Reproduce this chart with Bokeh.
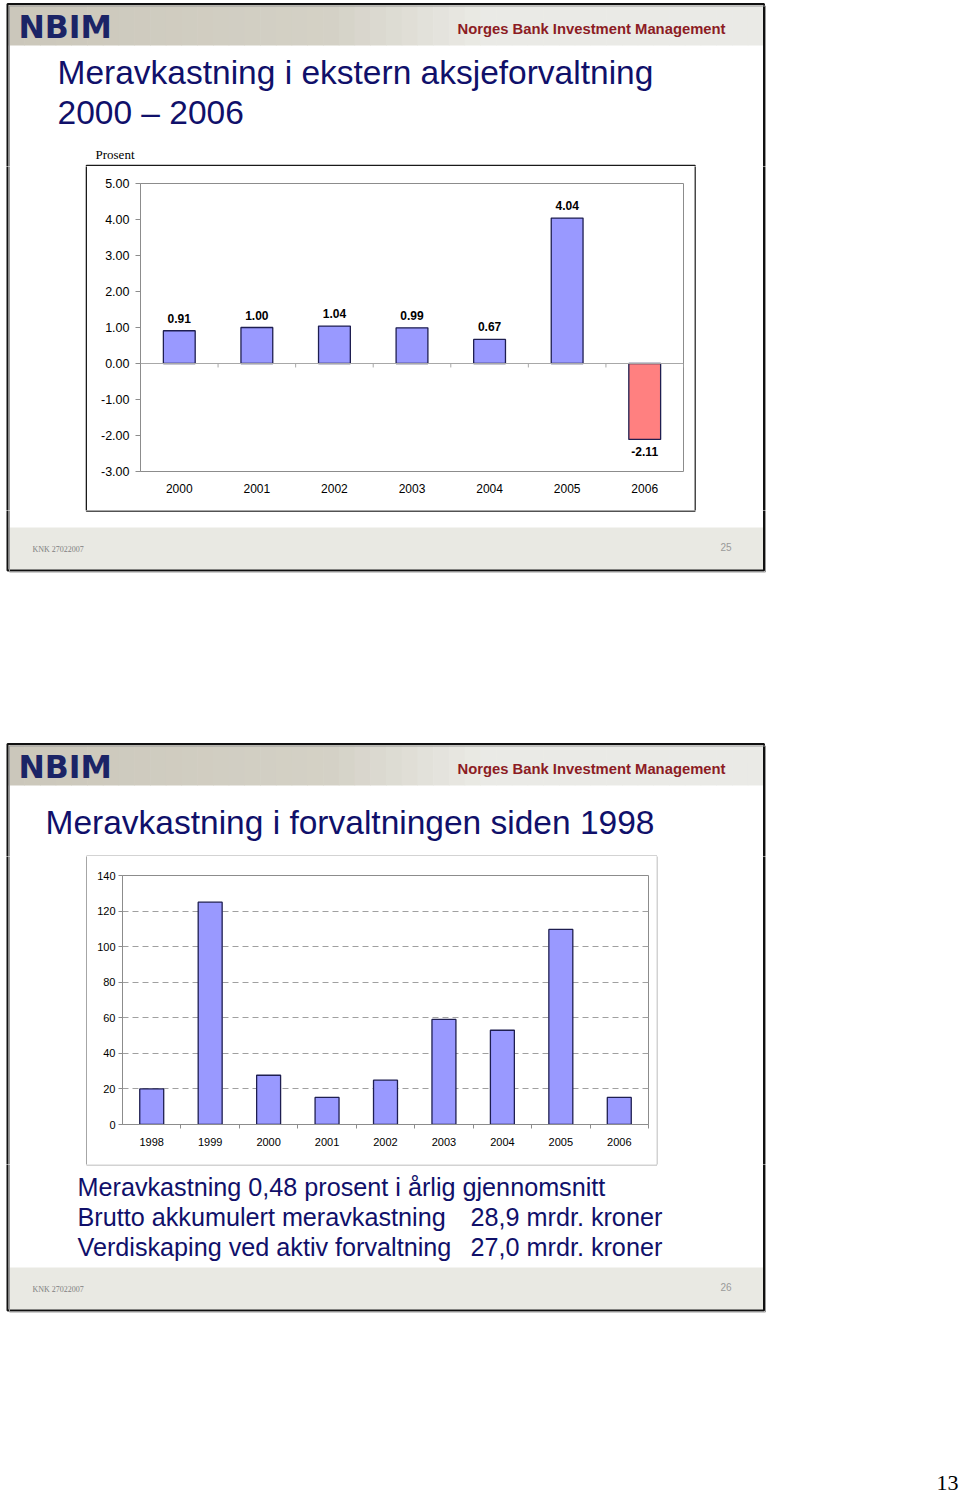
import numpy as np
from bokeh.plotting import figure
from bokeh.layouts import column, row
from bokeh.models import (Range1d, FactorRange, FixedTicker, PrintfTickFormatter,
                          LinearAxis, Span, CustomJSTickFormatter)
from bokeh.core.properties import value
from bokeh.embed import file_html
from bokeh.resources import INLINE

# ---------------- data ----------------
years1 = ["2000", "2001", "2002", "2003", "2004", "2005", "2006"]
excess1 = [0.91, 1.00, 1.04, 0.99, 0.67, 4.04, -2.11]
yticks1 = [-3, -2, -1, 0, 1, 2, 3, 4, 5]

years2 = ["1998", "1999", "2000", "2001", "2002", "2003", "2004", "2005", "2006"]
excess2 = [20.0, 125.0, 27.7, 15.2, 24.9, 59.1, 53.0, 109.7, 15.2]
yticks2 = [0, 20, 40, 60, 80, 100, 120, 140]

title1 = ["Meravkastning i ekstern aksjeforvaltning", "2000 \u2013 2006"]
title2 = "Meravkastning i forvaltningen siden 1998"
unit1 = "Prosent"
notes_left = ["Meravkastning 0,48 prosent i \u00e5rlig gjennomsnitt",
              "Brutto akkumulert meravkastning",
              "Verdiskaping ved aktiv forvaltning"]
notes_right = ["", "28,9 mrdr. kroner", "27,0 mrdr. kroner"]
header_left = "NBIM"
header_right = "Norges Bank Investment Management"
footer_left = "KNK 27022007"
slide_numbers = ["25", "26"]
page_number = "13"

# ---------------- style ----------------
SANS = "Liberation Sans"
SERIF = "Liberation Serif"
NAVY = "#10106A"
BLUE = "#9999FF"
RED = "#FF8080"
GREY = "#8C8C8C"

# ---------------- page decoration (page pixel coords) ----------------
rects = []   # filled
frames = []  # outlines
texts = []


def add_rect(l, r, t, b, fill):
    rects.append(dict(l=l, r=r, t=t, b=b, fill=fill))


def add_frame(l, r, t, b, color, lw):
    frames.append(dict(l=l, r=r, t=t, b=b, color=color, lw=lw))


def add_text(x, y, s, size, font=SANS, style="normal", color="black", align="left"):
    texts.append(dict(x=x, y=y, s=s, size=size, font=font, style=style, color=color, align=align))


def lerp(c0, c1, t):
    return "#%02x%02x%02x" % tuple(int(round(a + (b - a) * t)) for a, b in zip(c0, c1))


for k, off in enumerate([0, 740]):
    n = 48
    xs = np.linspace(8, 763, n + 1)
    for i in range(n):
        xm = 0.5 * (xs[i] + xs[i + 1])
        if xm < 330:
            col = lerp((203, 199, 186), (212, 209, 198), xm / 330)
        elif xm < 480:
            col = lerp((212, 209, 198), (234, 234, 229), (xm - 330) / 150)
        else:
            col = "#eaeae6"
        add_rect(xs[i], xs[i + 1] + 0.6, 4 + off, 45 + off, col)
    add_rect(8, 763, 527 + off, 569 + off, "#e9e9e3")
    add_frame(7, 763.5, 3.5 + off, 570 + off, "#111111", 2)
    add_frame(9, 765, 5.5 + off, 571.5 + off, "#9a9a9a", 1)
    add_text(18, 26 + off, header_left, "31.5px", font="DejaVu Sans", style="bold", color="#1B2466")
    add_text(725, 28 + off, header_right, "14.8px", style="bold", color="#8C1C24", align="right")
    add_text(32, 549 + off, footer_left, "8px", font=SERIF, color="#808080")
    add_text(731, 546 + off, slide_numbers[k], "10px", color="#9a9a9a", align="right")

add_text(57, 72, title1[0], "33.5px", color=NAVY)
add_text(57, 112, title1[1], "33.5px", color=NAVY)
add_text(95, 154, unit1, "13px", font=SERIF)
add_frame(86, 694.5, 165, 510.5, "#1a1a1a", 1.6)

add_text(45, 822, title2, "33.5px", color=NAVY)
add_frame(86, 656.5, 855.5, 1164.5, "#a6a6a6", 1)
for i, (a, b) in enumerate(zip(notes_left, notes_right)):
    y = 1186 + 30 * i
    add_text(77, y, a, "25.2px", color=NAVY)
    if b:
        add_text(470, y, b, "25.2px", color=NAVY)

add_text(958, 1482, page_number, "22px", font=SERIF, align="right")


def piece(x0, x1, y0, y1):
    p = figure(width=x1 - x0, height=y1 - y0, x_range=Range1d(x0, x1), y_range=Range1d(y1, y0),
               x_axis_type=None, y_axis_type=None, output_backend="svg", toolbar_location=None,
               min_border=0, outline_line_color=None, background_fill_color="white",
               border_fill_color="white", frame_align=False)
    def hit(d):
        return d["l"] < x1 + 2 and d["r"] > x0 - 2 and d["t"] < y1 + 2 and d["b"] > y0 - 2
    rs = [d for d in rects if hit(d)]
    if rs:
        p.quad(left=[d["l"] for d in rs], right=[d["r"] for d in rs],
               top=[d["t"] for d in rs], bottom=[d["b"] for d in rs],
               fill_color=[d["fill"] for d in rs], line_color=None)
    fs = [d for d in frames if hit(d)]
    if fs:
        p.quad(left=[d["l"] for d in fs], right=[d["r"] for d in fs],
               top=[d["t"] for d in fs], bottom=[d["b"] for d in fs],
               fill_color=None, line_color=[d["color"] for d in fs],
               line_width=[d["lw"] for d in fs])
    for t in texts:
        if x0 <= t["x"] <= x1 and y0 <= t["y"] < y1:
            p.text(x=[t["x"]], y=[t["y"]], text=[t["s"]], text_font=value(t["font"]),
                   text_font_size=t["size"], text_font_style=t["style"], text_color=t["color"],
                   text_align=t["align"], text_baseline="middle")
    return p


# ---------------- chart 1 ----------------
c1 = figure(width=607, height=344, x_range=FactorRange(factors=years1), y_range=Range1d(-3, 5),
            output_backend="svg", toolbar_location=None, frame_align=False,
            min_border_left=53, min_border_right=11, min_border_top=17, min_border_bottom=39,
            outline_line_color=GREY, outline_line_width=1,
            background_fill_color="white", border_fill_color="white")
c1.xgrid.visible = False
c1.ygrid.visible = False
c1.xaxis.axis_line_color = None
c1.xaxis.major_tick_line_color = None
c1.xaxis.major_tick_out = 0
c1.xaxis.major_label_standoff = 12
c1.xaxis.major_label_text_font = SANS
c1.xaxis.major_label_text_font_size = "12px"
c1.xaxis.major_label_text_color = "black"
c1.yaxis.ticker = FixedTicker(ticks=yticks1)
c1.yaxis.formatter = PrintfTickFormatter(format="%.2f")
c1.yaxis.axis_line_color = GREY
c1.yaxis.major_tick_line_color = GREY
c1.yaxis.major_tick_in = 0
c1.yaxis.major_tick_out = 5
c1.yaxis.minor_tick_line_color = None
c1.yaxis.major_label_standoff = 6
c1.yaxis.major_label_text_font = SANS
c1.yaxis.major_label_text_font_size = "12.5px"
c1.yaxis.major_label_text_color = "black"

c1.add_layout(Span(location=0, dimension="width", line_color="#a8a8a8", line_width=1))
slots1 = list(range(1, len(years1) + 1))
c1.segment(x0=slots1, y0=[0] * len(slots1), x1=slots1, y1=[-0.11] * len(slots1),
           line_color="#a8a8a8", line_width=1)

colors1 = [BLUE if v >= 0 else RED for v in excess1]
c1.vbar(x=years1, top=excess1, bottom=0, width=0.41, fill_color=colors1,
        line_color="#1E1E50", line_width=1.3)

pos = [i for i, v in enumerate(excess1) if v >= 0]
neg = [i for i, v in enumerate(excess1) if v < 0]
c1.text(x=[years1[i] for i in pos], y=[excess1[i] for i in pos],
        text=["%.2f" % excess1[i] for i in pos], text_font=value(SANS), text_font_size="12px",
        text_font_style="bold", text_align="center", text_baseline="bottom", y_offset=-8,
        text_color="black")
c1.text(x=[years1[i] for i in neg], y=[excess1[i] for i in neg],
        text=["%.2f" % excess1[i] for i in neg], text_font=value(SANS), text_font_size="12px",
        text_font_style="bold", text_align="center", text_baseline="top", y_offset=8,
        text_color="black")

# ---------------- chart 2 ----------------
n2 = len(years2)
slot_centers2 = [i + 0.5 for i in range(n2)]
c2 = figure(width=569, height=308, x_range=Range1d(0, n2), y_range=Range1d(0, 140),
            output_backend="svg", toolbar_location=None, x_axis_location=None, frame_align=False,
            min_border_left=35, min_border_right=8, min_border_top=19, min_border_bottom=40,
            outline_line_color=GREY, outline_line_width=1,
            background_fill_color="white", border_fill_color="white")
c2.xgrid.visible = False
c2.yaxis.ticker = FixedTicker(ticks=yticks2)
c2.yaxis.axis_line_color = GREY
c2.yaxis.major_tick_line_color = GREY
c2.yaxis.major_tick_in = 0
c2.yaxis.major_tick_out = 4
c2.yaxis.minor_tick_line_color = None
c2.yaxis.major_label_standoff = 3
c2.yaxis.major_label_text_font = SANS
c2.yaxis.major_label_text_font_size = "11px"
c2.yaxis.major_label_text_color = "black"
c2.ygrid.grid_line_color = "#a0a0a0"
c2.ygrid.grid_line_dash = "6 4"
c2.ygrid.grid_line_width = 1

tick_axis = LinearAxis(ticker=FixedTicker(ticks=list(range(1, n2 + 1))),
                       formatter=CustomJSTickFormatter(code="return ''"),
                       axis_line_color=GREY, major_tick_line_color=GREY,
                       major_tick_in=0, major_tick_out=4, minor_tick_line_color=None,
                       major_label_standoff=0, major_label_text_font_size="1px")
c2.add_layout(tick_axis, "below")
label_axis = LinearAxis(ticker=FixedTicker(ticks=slot_centers2),
                        formatter=CustomJSTickFormatter(args=dict(labels=years2),
                                                        code="return labels[Math.floor(tick)] || ''"),
                        axis_line_color=None, major_tick_line_color=None, major_tick_out=0,
                        minor_tick_line_color=None,
                        major_label_standoff=9, major_label_text_font=SANS,
                        major_label_text_font_size="11px", major_label_text_color="black")
c2.add_layout(label_axis, "below")

c2.vbar(x=slot_centers2, top=excess2, bottom=0, width=0.41, fill_color=BLUE,
        line_color="#1E1E50", line_width=1.3)

# ---------------- page layout ----------------
page = column(
    piece(0, 960, 0, 166),
    row(piece(0, 87, 166, 510), c1, piece(694, 960, 166, 510), spacing=0),
    piece(0, 960, 510, 856),
    row(piece(0, 87, 856, 1164), c2, piece(656, 960, 856, 1164), spacing=0),
    piece(0, 960, 1164, 1494),
    spacing=0,
)

open("out.html", "w").write(file_html(page, INLINE))
